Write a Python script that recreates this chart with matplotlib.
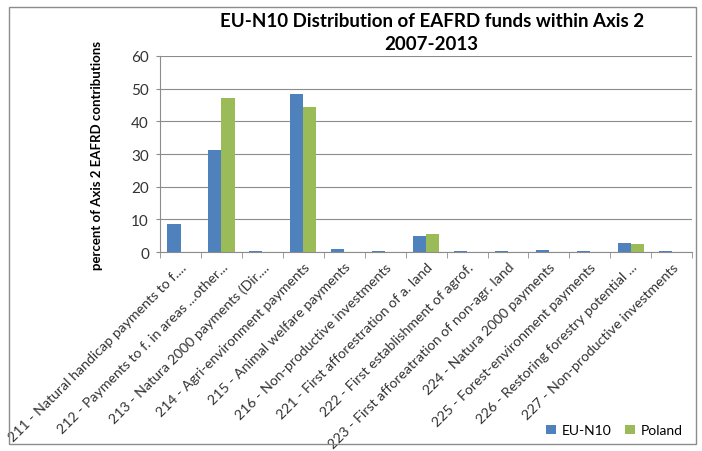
import matplotlib.pyplot as plt
import numpy as np
from matplotlib.patches import Rectangle

plt.rcParams['font.family'] = ['Lato', 'DejaVu Sans']

measures = ["211 - Natural handicap payments to f....",
            "212 - Payments to f. in areas ...other...",
            "213 - Natura 2000 payments (Dir....",
            "214 - Agri-environment payments",
            "215 - Animal welfare payments",
            "216 - Non-productive investments",
            "221 - First afforestration of a. land",
            "222 - First establishment of agrof.",
            "223 - First afforeatration of non-agr. land",
            "224 - Natura 2000 payments",
            "225 - Forest-environment payments",
            "226 - Restoring forestry potential ...",
            "227 - Non-productive investments"]
eu_n10 = [8.5, 31.2, 0.4, 48.3, 1.0, 0.2, 5.0, 0.2, 0.4, 0.6, 0.2, 2.8, 0.2]
poland = [0, 47.2, 0, 44.4, 0, 0, 5.6, 0, 0, 0, 0, 2.4, 0]

blue = "#4F81BD"
green = "#9BBB59"

fig = plt.figure(figsize=(7.02, 4.52), dpi=100)
ax = fig.add_axes([0.228, 0.440, 0.758, 0.434])

x = np.arange(len(measures))
w = 0.32
ax.bar(x - w / 2, eu_n10, w, color=blue, label="EU-N10", zorder=3)
ax.bar(x + w / 2, poland, w, color=green, label="Poland", zorder=3)

ax.set_xlim(-0.5, len(measures) - 0.5)
ax.set_ylim(0, 60)
ax.set_yticks(range(0, 61, 10))
ax.yaxis.grid(True, color="#8c8c8c", linewidth=0.8, zorder=0)
ax.tick_params(axis="y", labelsize=11, length=3, color="#8c8c8c",
               labelcolor="#333333", pad=5)

ax.set_xticks(x)
ax.set_xticklabels(measures, rotation=45, ha="right", rotation_mode="anchor",
                   fontsize=10.2, color="#333333")
ax.tick_params(axis="x", which="major", length=0, pad=6)
ax.set_xticks(np.arange(-0.5, len(measures), 1), minor=True)
ax.tick_params(axis="x", which="minor", length=4, color="#8c8c8c")

for s in ["top", "right"]:
    ax.spines[s].set_visible(False)
ax.spines["left"].set_color("#8c8c8c")
ax.spines["bottom"].set_color("#8c8c8c")

ax.set_ylabel("percent of Axis 2 EAFRD contributions", fontsize=9.5,
              fontweight="bold", labelpad=20)

fig.suptitle("EU-N10 Distribution of EAFRD funds within Axis 2\n2007-2013",
             x=0.615, y=0.972, fontsize=13.5, fontweight="bold", linespacing=1.45)

ax.legend(loc="lower right", bbox_to_anchor=(0.99, 0.005),
          bbox_transform=fig.transFigure, ncol=2, frameon=False,
          fontsize=10, handlelength=0.7, handleheight=0.7,
          handletextpad=0.4, columnspacing=1.0)

fig.patches.append(Rectangle((0.013, 0.015), 0.978, 0.968, transform=fig.transFigure,
                             fill=False, edgecolor="#8c8c8c", linewidth=1.0))

plt.savefig("out.png", dpi=100)
